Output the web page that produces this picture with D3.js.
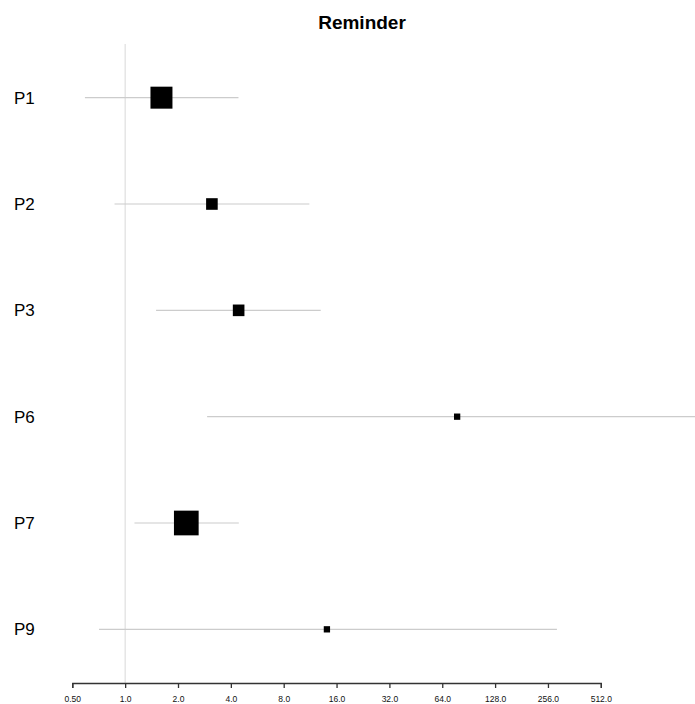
<!DOCTYPE html>
<html>
<head>
	<title>Reminder forest plot</title>
	<script src="https://d3js.org/d3.v7.min.js" type="text/javascript"></script>
	<style>
		body { margin: 0; background: #fff; }
		svg text { font-family: "Liberation Sans", Arial, sans-serif; }
	</style>
</head>
<body>
	<script type="text/javascript">
		// Estimates (odds ratios) with lower / upper limits
		var labels = ["P1", "P2", "P3", "P6", "P7", "P9"];
		var estimates = [1.61, 3.12, 4.43, 77.8, 2.23, 14.1];
		var lower = [0.59, 0.87, 1.50, 2.93, 1.13, 0.71];
		var upper = [4.42, 11.2, 13.0, 2000, 4.44, 288];
		// relative weight of each study (box size)
		var weights = [0.89, 0.47, 0.47, 0.255, 1.0, 0.255];
		var tickValues = [0.5, 1, 2, 4, 8, 16, 32, 64, 128, 256, 512];
		var tickLabels = ["0.50", "1.0", "2.0", "4.0", "8.0", "16.0", "32.0", "64.0", "128.0", "256.0", "512.0"];

		var width = 695, height = 704;

		var svg = d3.select("body").append("svg")
			.attr("width", width)
			.attr("height", height);

		var x = d3.scaleLog().base(2)
			.domain([0.5, 512])
			.range([72.3, 600.8]);

		var y = d3.scaleBand()
			.domain(labels)
			.range([44.5, 682.5]);

		var box = d3.scaleLinear().domain([0, 1]).range([0, 24.7]);

		var rows = labels.map(function(d, i) {
			return { label: d, est: estimates[i], lo: lower[i], hi: upper[i], w: weights[i] };
		});

		// title
		svg.append("text")
			.attr("x", 362)
			.attr("y", 29)
			.attr("text-anchor", "middle")
			.attr("font-size", "19px")
			.attr("font-weight", "bold")
			.attr("fill", "#000")
			.text("Reminder");

		// line of no effect
		svg.append("line")
			.attr("x1", x(1)).attr("x2", x(1))
			.attr("y1", 44).attr("y2", 683)
			.attr("stroke", "#d9d9d9")
			.attr("stroke-width", 1);

		// confidence intervals
		svg.selectAll("line.ci")
			.data(rows)
			.enter()
			.append("line")
			.attr("class", "ci")
			.attr("x1", function(d) { return x(d.lo); })
			.attr("x2", function(d) { return Math.min(x(d.hi), width); })
			.attr("y1", function(d) { return y(d.label) + y.bandwidth() / 2; })
			.attr("y2", function(d) { return y(d.label) + y.bandwidth() / 2; })
			.attr("stroke", "#cccccc")
			.attr("stroke-width", 1.2);

		// point estimate boxes
		svg.selectAll("rect.box")
			.data(rows)
			.enter()
			.append("rect")
			.attr("class", "box")
			.attr("x", function(d) { return x(d.est) - box(d.w) / 2; })
			.attr("y", function(d) { return y(d.label) + y.bandwidth() / 2 - box(d.w) / 2; })
			.attr("width", function(d) { return box(d.w); })
			.attr("height", function(d) { return box(d.w); })
			.attr("fill", "#000");

		// row labels
		svg.selectAll("text.lab")
			.data(rows)
			.enter()
			.append("text")
			.attr("class", "lab")
			.attr("x", 14)
			.attr("y", function(d) { return y(d.label) + y.bandwidth() / 2 + 6; })
			.attr("font-size", "17px")
			.attr("fill", "#000")
			.text(function(d) { return d.label; });

		// x axis
		var axis = d3.axisBottom(x)
			.tickValues(tickValues)
			.tickFormat(function(d, i) { return tickLabels[i]; })
			.tickSizeOuter(0)
			.tickSize(5);

		var g = svg.append("g")
			.attr("transform", "translate(0,683)")
			.call(axis);
		g.select(".domain").attr("stroke", "#333").attr("stroke-width", 1.3);
		g.selectAll(".tick line").attr("stroke", "#333").attr("stroke-width", 1.3);
		g.selectAll(".tick text")
			.attr("y", 13)
			.attr("font-size", "8.5px")
			.attr("font-family", "Liberation Sans, Arial, sans-serif")
			.attr("fill", "#111");
	</script>
</body>
</html>
